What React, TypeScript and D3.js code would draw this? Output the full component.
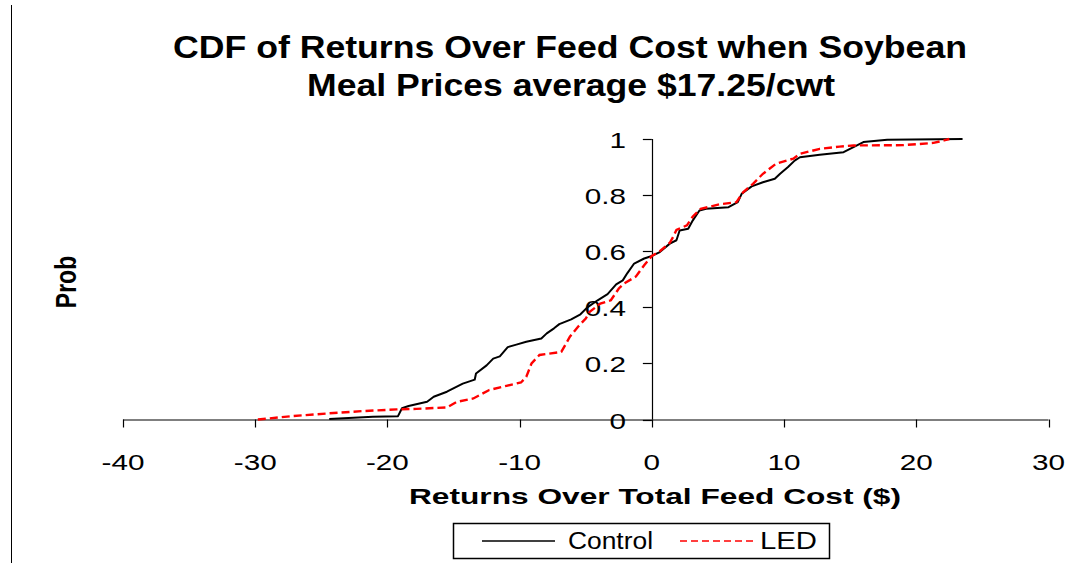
import React from "react";
import * as d3 from "d3";

const W = 1073;
const H = 563;

const titleLines = ["CDF of Returns Over Feed Cost when Soybean", "Meal Prices average $17.25/cwt"];
const xTicks = [-40, -30, -20, -10, 0, 10, 20, 30];
const yTicks = [0, 0.2, 0.4, 0.6, 0.8, 1];
const xLabel = "Returns Over Total Feed Cost ($)";
const yLabel = "Prob";
const seriesNames = ["Control", "LED"];

const controlX = [-24.4, -21.1, -19.2, -18.9, -18.4, -17.0, -16.5, -15.5, -14.9, -14.3, -13.4, -13.3, -12.5, -12.0, -11.5, -10.9, -10.25, -9.5, -8.36, -7.95, -7.4, -7.0, -6.1, -5.4, -4.9, -4.1, -3.35, -2.7, -2.2, -1.85, -1.34, -0.58, 0, 0.6, 1.36, 1.86, 2.1, 2.75, 3.1, 3.6, 4.1, 5.8, 6.5, 6.8, 7.55, 8.4, 9.3, 9.7, 10.3, 10.8, 11.2, 12.7, 14.5, 15.25, 16.0, 17.8, 23.5];
const controlP = [0.002, 0.01, 0.012, 0.04, 0.048, 0.063, 0.081, 0.099, 0.114, 0.128, 0.142, 0.164, 0.193, 0.217, 0.225, 0.258, 0.267, 0.277, 0.289, 0.307, 0.325, 0.34, 0.357, 0.375, 0.399, 0.425, 0.447, 0.482, 0.496, 0.522, 0.556, 0.574, 0.583, 0.597, 0.627, 0.639, 0.674, 0.68, 0.71, 0.745, 0.751, 0.757, 0.775, 0.805, 0.831, 0.846, 0.858, 0.876, 0.9, 0.923, 0.935, 0.944, 0.953, 0.971, 0.989, 0.997, 1.0];

const ledX = [-29.8, -27.2, -24.4, -21.9, -19.3, -17.8, -15.5, -14.75, -13.5, -12.3, -11.0, -9.9, -9.5, -9.1, -8.5, -6.85, -6.2, -5.6, -5.0, -4.7, -3.9, -3.1, -2.5, -2.1, -1.2, -0.58, 0, 0.6, 1.36, 1.6, 1.86, 2.65, 3.1, 3.7, 5.1, 6.4, 6.9, 7.65, 8.4, 9.4, 10.7, 11.2, 12.7, 14.2, 15.25, 19.0, 21.3, 22.1, 22.5];
const ledP = [0, 0.012, 0.022, 0.03, 0.036, 0.038, 0.043, 0.063, 0.075, 0.105, 0.12, 0.132, 0.152, 0.2, 0.23, 0.241, 0.295, 0.33, 0.36, 0.384, 0.413, 0.425, 0.467, 0.485, 0.51, 0.55, 0.583, 0.6, 0.63, 0.65, 0.676, 0.692, 0.724, 0.751, 0.767, 0.775, 0.81, 0.84, 0.876, 0.912, 0.93, 0.947, 0.965, 0.973, 0.977, 0.978, 0.986, 0.995, 1.0];

const FONT = "'Liberation Sans', Arial, Helvetica, sans-serif";

export default function App() {
  const x = d3.scaleLinear().domain([-40, 30]).range([123, 1048.5]);
  const y = d3.scaleLinear().domain([0, 1]).range([419.5, 139]);
  const line = d3
    .line<[number, number]>()
    .x((d) => x(d[0]))
    .y((d) => y(d[1]));
  const control = controlX.map((v, i) => [v, controlP[i]] as [number, number]);
  const led = ledX.map((v, i) => [v, ledP[i]] as [number, number]);
  const x0 = x(0);
  const sx = 1.32;

  return (
    <svg
      width={W}
      height={H}
      style={{ position: "absolute", left: 0, top: 0, background: "#fff" }}
      fontFamily={FONT}
    >
      <rect x={0} y={0} width={W} height={H} fill="#fff" />
      <line x1={11.5} x2={11.5} y1={5} y2={H} stroke="#000" strokeWidth={1} />

      {/* title */}
      <text x={570} y={58} textAnchor="middle" fontSize={31} fontWeight="bold" textLength={794} lengthAdjust="spacingAndGlyphs">
        {titleLines[0]}
      </text>
      <text x={571} y={96} textAnchor="middle" fontSize={31} fontWeight="bold" textLength={528} lengthAdjust="spacingAndGlyphs">
        {titleLines[1]}
      </text>

      {/* x axis */}
      <line x1={x(-40)} x2={x(30)} y1={y(0) + 0.5} y2={y(0) + 0.5} stroke="#000" strokeWidth={1.2} />
      {xTicks.map((t) => (
        <g key={"xt" + t}>
          <line x1={Math.round(x(t)) + 0.5} x2={Math.round(x(t)) + 0.5} y1={y(0)} y2={y(0) + 8} stroke="#000" strokeWidth={1.2} />
          <g transform={`translate(${x(t)},469.5) scale(${sx},1)`}>
            <text x={0} y={0} textAnchor="middle" fontSize={22.5}>
              {t}
            </text>
          </g>
        </g>
      ))}

      {/* y axis */}
      <line x1={Math.round(x0) + 0.5} x2={Math.round(x0) + 0.5} y1={y(1)} y2={y(0)} stroke="#000" strokeWidth={1.2} />
      {yTicks.map((t) => (
        <g key={"yt" + t}>
          <line x1={x0 - 9} x2={x0} y1={Math.round(y(t)) + 0.5} y2={Math.round(y(t)) + 0.5} stroke="#000" strokeWidth={1.2} />
          <g transform={`translate(626,${y(t) + 9}) scale(${sx},1)`}>
            <text x={0} y={0} textAnchor="end" fontSize={22.5}>
              {t}
            </text>
          </g>
        </g>
      ))}

      {/* axis titles */}
      <text x={655} y={504} textAnchor="middle" fontSize={22} fontWeight="bold" textLength={492} lengthAdjust="spacingAndGlyphs">
        {xLabel}
      </text>
      <g transform="translate(76,282) rotate(-90)">
        <g transform="scale(1,1.3)">
          <text x={0} y={0} textAnchor="middle" fontSize={23} fontWeight="bold">
            {yLabel}
          </text>
        </g>
      </g>

      {/* series */}
      <path d={line(control) || ""} fill="none" stroke="#000" strokeWidth={2} strokeLinejoin="round" />
      <path d={line(led) || ""} fill="none" stroke="#ff0000" strokeWidth={2.4} strokeDasharray="8,4" />

      {/* legend */}
      <rect x={453.5} y={523.5} width={376} height={35} fill="#fff" stroke="#000" strokeWidth={1.5} />
      <line x1={482} x2={555} y1={541} y2={541} stroke="#000" strokeWidth={1.5} />
      <text x={568} y={549} fontSize={23} textLength={85} lengthAdjust="spacingAndGlyphs">
        {seriesNames[0]}
      </text>
      <line x1={680} x2={755} y1={541} y2={541} stroke="#ff0000" strokeWidth={1.5} strokeDasharray="7,4" />
      <text x={760} y={549} fontSize={23} textLength={57} lengthAdjust="spacingAndGlyphs">
        {seriesNames[1]}
      </text>
    </svg>
  );
}
